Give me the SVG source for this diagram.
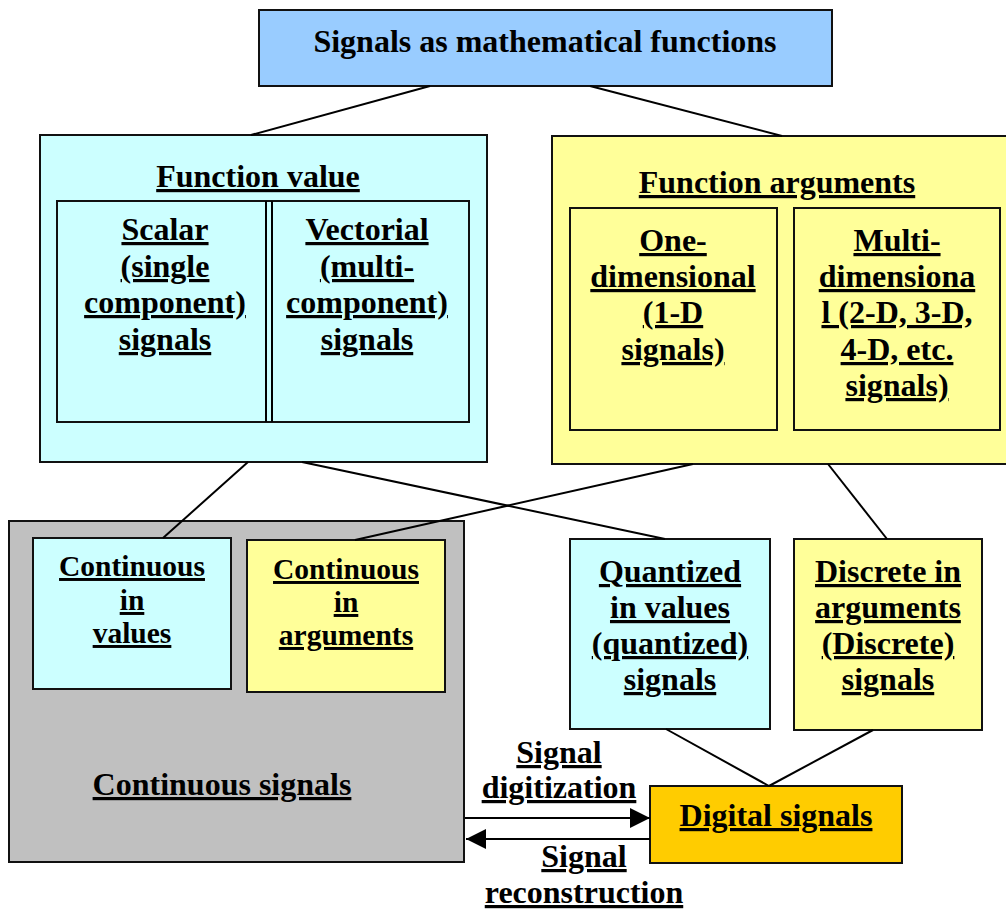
<svg xmlns="http://www.w3.org/2000/svg" width="1006" height="910" viewBox="0 0 1006 910">
<defs>
<style>
.box{stroke:#111;stroke-width:2}
.ln{stroke:#000;stroke-width:2;fill:none}
text{font-family:"Liberation Serif","Times New Roman",serif;font-weight:bold;fill:#000;text-anchor:middle;text-decoration:underline;text-decoration-thickness:3px}
.t32{font-size:32px}
.t30{font-size:29.5px}
.plain{text-decoration:none}
</style>
<marker id="ah" viewBox="0 0 20 20" refX="20" refY="10" markerWidth="20" markerHeight="20" markerUnits="userSpaceOnUse" orient="auto">
<path d="M0,0 L20,10 L0,20 Z" fill="#000"/>
</marker>
</defs>
<rect width="1006" height="910" fill="#fff"/>
<g id="top">
<rect class="box" x="259" y="10" width="573" height="76" fill="#99CCFF"/>
<text class="t32 plain" x="545" y="52">Signals as mathematical functions</text>
</g>
<g id="function-value">
<rect class="box" x="40" y="135" width="447" height="327" fill="#CCFFFF"/>
<text class="t32" x="258" y="187">Function value</text>
</g>
<g id="scalar-vectorial">
<rect class="box" x="57" y="201" width="412" height="221" fill="#CCFFFF"/>
<line class="ln" x1="266" y1="201" x2="266" y2="422"/>
<line class="ln" x1="272" y1="201" x2="272" y2="422"/>
</g>
<g id="scalar">
<text class="t32"><tspan x="165" y="240">Scalar</tspan><tspan x="165" y="277">(single</tspan><tspan x="165" y="313">component)</tspan><tspan x="165" y="350">signals</tspan></text>
</g>
<g id="vectorial">
<text class="t32"><tspan x="367" y="240">Vectorial</tspan><tspan x="367" y="277">(multi-</tspan><tspan x="367" y="313">component)</tspan><tspan x="367" y="350">signals</tspan></text>
</g>
<g id="function-arguments">
<rect class="box" x="552" y="136" width="470" height="328" fill="#FFFF99"/>
<text class="t32" x="777" y="193">Function arguments</text>
</g>
<g id="one-dimensional">
<rect class="box" x="570" y="208" width="207" height="222" fill="#FFFF99"/>
<text class="t32"><tspan x="673" y="251">One-</tspan><tspan x="673" y="287">dimensional</tspan><tspan x="673" y="323">(1-D</tspan><tspan x="673" y="360">signals)</tspan></text>
</g>
<g id="multi-dimensional">
<rect class="box" x="794" y="208" width="206" height="222" fill="#FFFF99"/>
<text class="t32"><tspan x="897" y="251">Multi-</tspan><tspan x="897" y="287">dimensiona</tspan><tspan x="897" y="323">l (2-D, 3-D,</tspan><tspan x="897" y="360">4-D, etc.</tspan><tspan x="897" y="396">signals)</tspan></text>
</g>
<g id="continuous-signals">
<rect class="box" x="9" y="521" width="455" height="341" fill="#C0C0C0"/>
<text class="t32" x="222" y="795">Continuous signals</text>
</g>
<g id="continuous-values">
<rect class="box" x="33" y="538" width="198" height="151" fill="#CCFFFF"/>
<text class="t30"><tspan x="132" y="576">Continuous</tspan><tspan x="132" y="610">in</tspan><tspan x="132" y="643">values</tspan></text>
</g>
<g id="continuous-arguments">
<rect class="box" x="247" y="540" width="198" height="152" fill="#FFFF99"/>
<text class="t30"><tspan x="346" y="579">Continuous</tspan><tspan x="346" y="612">in</tspan><tspan x="346" y="645">arguments</tspan></text>
</g>
<g id="quantized">
<rect class="box" x="570" y="539" width="200" height="190" fill="#CCFFFF"/>
<text class="t32"><tspan x="670" y="582">Quantized</tspan><tspan x="670" y="618">in values</tspan><tspan x="670" y="654">(quantized)</tspan><tspan x="670" y="690">signals</tspan></text>
</g>
<g id="discrete">
<rect class="box" x="794" y="539" width="188" height="191" fill="#FFFF99"/>
<text class="t32"><tspan x="888" y="582">Discrete in</tspan><tspan x="888" y="618">arguments</tspan><tspan x="888" y="654">(Discrete)</tspan><tspan x="888" y="690">signals</tspan></text>
</g>
<g id="digital">
<rect class="box" x="650" y="786" width="252" height="77" fill="#FFCC00"/>
<text class="t32" x="776" y="826">Digital signals</text>
</g>
<g id="connectors">
<line class="ln" x1="430" y1="86" x2="251" y2="135"/>
<line class="ln" x1="590" y1="86" x2="782" y2="136"/>
<line class="ln" x1="248" y1="462" x2="163" y2="538"/>
<line class="ln" x1="302" y1="462" x2="665" y2="539"/>
<line class="ln" x1="693" y1="464" x2="355" y2="540"/>
<line class="ln" x1="828" y1="464" x2="887" y2="539"/>
<line class="ln" x1="666" y1="729" x2="769" y2="786"/>
<line class="ln" x1="873" y1="730" x2="769" y2="786"/>
<line class="ln" x1="465" y1="818" x2="650" y2="818" marker-end="url(#ah)"/>
<line class="ln" x1="650" y1="839" x2="466" y2="839" marker-end="url(#ah)"/>
</g>
<g id="labels">
<text class="t32"><tspan x="559" y="763">Signal</tspan><tspan x="559" y="798">digitization</tspan></text>
<text class="t32"><tspan x="584" y="867">Signal</tspan><tspan x="584" y="903">reconstruction</tspan></text>
</g>
</svg>
